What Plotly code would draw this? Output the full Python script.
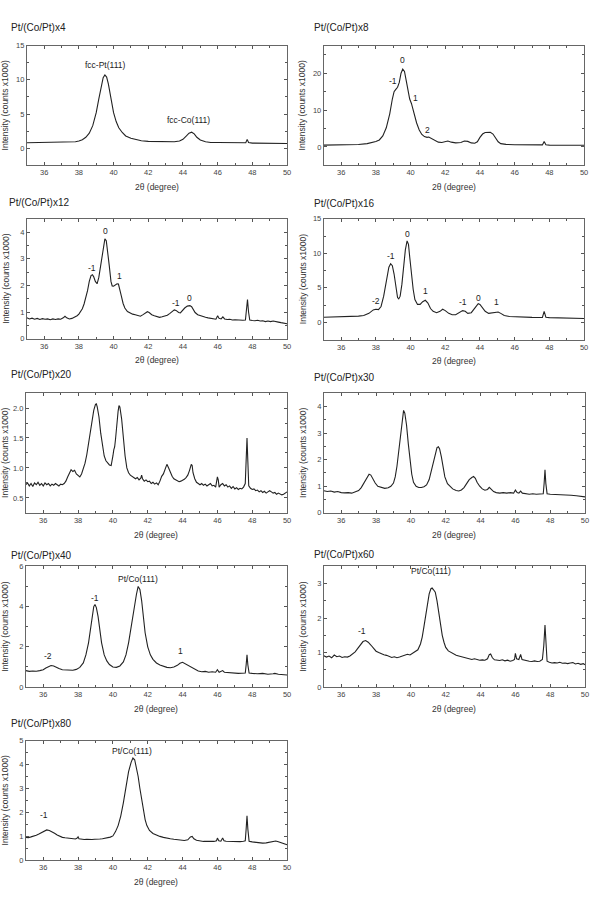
import plotly.graph_objects as go

W, H = 596, 900

# ---------------- data (2theta, intensity x1000) ----------------
titles = ["Pt/(Co/Pt)x4", "Pt/(Co/Pt)x8", "Pt/(Co/Pt)x12", "Pt/(Co/Pt)x16", "Pt/(Co/Pt)x20",
          "Pt/(Co/Pt)x30", "Pt/(Co/Pt)x40", "Pt/(Co/Pt)x60", "Pt/(Co/Pt)x80"]

x_label = "2θ (degree)"
y_label = "Intensity (counts x1000)"
x_ticks = [36, 38, 40, 42, 44, 46, 48, 50]

x4 = [(35.0,0.80),(35.5,0.82),(36.0,0.80),(36.5,0.82),(37.0,0.83),(37.5,0.88),(37.8,0.95),(38.0,1.05),
      (38.2,1.25),(38.4,1.6),(38.6,2.2),(38.8,3.3),(39.0,5.2),(39.15,7.2),(39.3,9.2),(39.4,10.3),(39.5,10.7),
      (39.6,10.4),(39.7,9.4),(39.8,8.0),(39.9,6.5),(40.0,5.2),(40.15,3.9),(40.3,3.0),(40.5,2.3),(40.7,1.8),
      (41.0,1.45),(41.3,1.25),(41.6,1.1),(42.0,1.0),(42.5,0.95),(43.0,0.92),(43.5,0.95),(43.8,1.05),(44.0,1.3),
      (44.2,1.8),(44.35,2.2),(44.5,2.35),(44.65,2.1),(44.8,1.6),(45.0,1.2),(45.3,0.95),(45.6,0.85),(46.0,0.85),
      (46.5,0.82),(47.0,0.8),(47.5,0.78),(47.62,0.8),(47.7,1.3),(47.78,0.85),(48.0,0.75),(48.5,0.73),
      (49.0,0.72),(49.5,0.72),(50.0,0.7)]

x8 = [(35.0,0.5),(35.5,0.5),(36.0,0.52),(36.5,0.55),(37.0,0.65),(37.5,0.9),(37.8,1.2),(38.0,1.5),(38.2,1.9),
      (38.4,3.0),(38.6,5.2),(38.8,9.0),(38.95,13.0),(39.05,15.0),(39.15,15.6),(39.25,16.2),(39.35,17.5),
      (39.45,20.0),(39.55,21.1),(39.65,20.5),(39.75,18.0),(39.85,15.0),(39.95,13.0),(40.05,11.8),(40.2,9.0),
      (40.35,6.5),(40.5,4.6),(40.65,3.4),(40.8,2.8),(40.95,2.6),(41.05,2.7),(41.2,2.3),(41.4,1.7),(41.6,1.3),
      (41.8,1.2),(42.0,1.5),(42.15,1.6),(42.35,1.3),(42.6,1.1),(42.9,1.2),(43.1,1.6),(43.3,1.5),(43.5,1.1),
      (43.7,1.0),(43.85,1.4),(44.0,2.6),(44.15,3.5),(44.3,3.9),(44.45,4.0),(44.6,4.0),(44.75,3.5),(44.9,2.4),
      (45.05,1.4),(45.2,0.9),(45.5,0.7),(46.0,0.6),(46.5,0.6),(47.0,0.55),(47.6,0.55),(47.7,1.5),(47.8,0.6),
      (48.0,0.5),(48.5,0.5),(49.0,0.48),(49.5,0.48),(50.0,0.45)]

x12 = [(35.0,0.78),(35.15,0.74),(35.3,0.77),(35.45,0.73),(35.6,0.76),(35.75,0.72),(35.9,0.75),(36.05,0.73),
       (36.2,0.74),(36.35,0.71),(36.5,0.74),(36.65,0.72),(36.8,0.74),(36.95,0.73),(37.1,0.78),(37.2,0.84),
       (37.3,0.78),(37.45,0.74),(37.6,0.76),(37.75,0.80),(37.9,0.86),(38.0,0.92),(38.1,1.0),(38.2,1.12),
       (38.3,1.30),(38.4,1.52),(38.5,1.80),(38.6,2.15),(38.7,2.37),(38.78,2.40),(38.85,2.33),(38.95,2.15),
       (39.05,2.06),(39.15,2.30),(39.22,2.60),(39.3,2.95),(39.4,3.45),(39.5,3.75),(39.58,3.68),(39.65,3.35),
       (39.75,2.75),(39.85,2.15),(39.92,1.98),(40.0,1.97),(40.1,2.0),(40.2,2.06),(40.28,2.05),(40.35,1.90),
       (40.45,1.60),(40.55,1.32),(40.65,1.15),(40.8,1.02),(40.95,0.96),(41.1,0.92),(41.25,0.90),(41.4,0.86),
       (41.55,0.84),(41.7,0.90),(41.85,0.97),(41.95,1.01),(42.05,0.98),(42.2,0.90),(42.35,0.86),(42.5,0.83),
       (42.65,0.80),(42.8,0.82),(42.95,0.84),(43.1,0.88),(43.25,0.95),(43.4,1.02),(43.5,1.08),(43.6,1.06),
       (43.75,0.98),(43.85,0.97),(43.95,1.05),(44.1,1.15),(44.25,1.22),(44.4,1.24),(44.5,1.20),(44.6,1.10),
       (44.7,0.98),(44.85,0.90),(45.0,0.86),(45.15,0.84),(45.3,0.80),(45.45,0.78),(45.6,0.76),(45.75,0.74),
       (45.9,0.73),(46.0,0.86),(46.08,0.76),(46.2,0.74),(46.3,0.82),(46.4,0.74),(46.55,0.72),(46.7,0.73),
       (46.85,0.70),(47.0,0.71),(47.15,0.70),(47.3,0.71),(47.45,0.69),(47.6,0.70),(47.66,1.0),(47.72,1.47),
       (47.78,1.0),(47.85,0.70),(48.0,0.68),(48.15,0.67),(48.3,0.69),(48.45,0.66),(48.6,0.67),(48.75,0.64),
       (48.9,0.66),(49.05,0.64),(49.2,0.66),(49.35,0.65),(49.5,0.62),(49.65,0.60),(49.8,0.58),(50.0,0.56)]

x16 = [(35.0,0.75),(35.5,0.78),(36.0,0.8),(36.5,0.85),(37.0,0.9),(37.3,1.0),(37.6,1.3),(37.85,1.8),(38.0,1.9),
       (38.15,1.85),(38.3,2.3),(38.45,3.8),(38.6,6.0),(38.75,8.0),(38.85,8.5),(38.95,8.2),(39.05,7.0),
       (39.15,5.0),(39.25,3.6),(39.32,3.4),(39.4,3.8),(39.5,5.5),(39.6,8.0),(39.7,10.5),(39.8,11.8),
       (39.88,11.3),(39.95,9.5),(40.05,7.0),(40.15,4.8),(40.25,3.3),(40.4,2.6),(40.55,2.6),(40.7,3.0),
       (40.85,3.2),(41.0,2.8),(41.15,2.0),(41.3,1.6),(41.5,1.4),(41.7,1.6),(41.85,1.9),(42.0,1.7),(42.2,1.3),
       (42.4,1.1),(42.6,1.1),(42.8,1.4),(43.0,1.7),(43.15,1.6),(43.3,1.3),(43.5,1.4),(43.7,2.0),(43.9,2.7),
       (44.0,2.6),(44.15,2.1),(44.3,1.6),(44.5,1.3),(44.7,1.4),(44.9,1.5),(45.05,1.5),(45.2,1.3),(45.4,1.0),
       (45.7,0.85),(46.0,0.8),(46.5,0.75),(47.0,0.72),(47.5,0.7),(47.6,0.72),(47.7,1.6),(47.8,0.75),
       (48.0,0.68),(48.5,0.65),(49.0,0.6),(49.5,0.58),(50.0,0.55)]

x20 = [(35.0,0.72),(35.1,0.75),(35.2,0.70),(35.3,0.74),(35.4,0.69),(35.5,0.75),(35.6,0.72),(35.7,0.76),
       (35.8,0.71),(35.9,0.74),(36.0,0.70),(36.1,0.75),(36.2,0.72),(36.3,0.74),(36.4,0.70),(36.5,0.73),
       (36.6,0.71),(36.7,0.74),(36.8,0.72),(36.9,0.70),(37.0,0.73),(37.1,0.72),(37.2,0.74),(37.3,0.78),
       (37.4,0.85),(37.5,0.92),(37.6,0.97),(37.7,0.94),(37.8,0.96),(37.9,0.90),(38.0,0.88),(38.1,0.85),
       (38.2,0.90),(38.3,0.98),(38.4,1.08),(38.5,1.22),(38.6,1.40),(38.7,1.60),(38.8,1.80),(38.9,1.96),
       (39.0,2.06),(39.05,2.07),(39.1,2.02),(39.2,1.85),(39.3,1.58),(39.4,1.35),(39.5,1.20),(39.6,1.12),
       (39.7,1.08),(39.8,1.05),(39.9,1.04),(39.95,1.10),(40.0,1.20),(40.05,1.30),(40.1,1.35),(40.15,1.48),
       (40.2,1.68),(40.3,1.95),(40.35,2.04),(40.4,2.02),(40.5,1.82),(40.6,1.50),(40.7,1.20),(40.8,1.00),
       (40.9,0.92),(41.0,0.88),(41.1,0.86),(41.2,0.85),(41.3,0.82),(41.4,0.84),(41.5,0.80),(41.6,0.83),
       (41.65,0.88),(41.7,0.82),(41.8,0.78),(41.9,0.80),(42.0,0.77),(42.1,0.78),(42.2,0.74),(42.3,0.76),
       (42.4,0.73),(42.5,0.75),(42.6,0.72),(42.7,0.78),(42.8,0.86),(42.9,0.90),(43.0,0.98),(43.1,1.06),
       (43.2,1.00),(43.3,0.92),(43.4,0.86),(43.5,0.82),(43.6,0.80),(43.7,0.78),(43.8,0.77),(43.9,0.78),
       (44.0,0.79),(44.1,0.81),(44.2,0.84),(44.3,0.88),(44.4,0.96),(44.5,1.06),(44.55,1.04),(44.6,0.92),
       (44.7,0.82),(44.8,0.76),(44.9,0.74),(45.0,0.72),(45.1,0.74),(45.2,0.71),(45.3,0.73),(45.4,0.70),
       (45.5,0.72),(45.6,0.74),(45.7,0.70),(45.8,0.71),(45.9,0.68),(46.0,0.85),(46.05,0.80),(46.1,0.68),
       (46.2,0.72),(46.3,0.74),(46.4,0.70),(46.5,0.72),(46.6,0.68),(46.7,0.70),(46.8,0.66),(46.9,0.69),
       (47.0,0.65),(47.1,0.67),(47.2,0.64),(47.3,0.66),(47.4,0.65),(47.5,0.68),(47.6,0.74),(47.65,1.10),
       (47.7,1.50),(47.75,1.10),(47.8,0.70),(47.9,0.66),(48.0,0.64),(48.1,0.65),(48.2,0.62),(48.3,0.63),
       (48.4,0.60),(48.5,0.62),(48.6,0.59),(48.7,0.61),(48.8,0.58),(48.9,0.60),(49.0,0.62),(49.1,0.60),
       (49.2,0.58),(49.3,0.59),(49.4,0.56),(49.5,0.58),(49.6,0.57),(49.7,0.55),(49.8,0.56),(49.9,0.58),
       (50.0,0.60)]

x30 = [(35.0,0.83),(35.2,0.80),(35.4,0.82),(35.6,0.78),(35.8,0.80),(36.0,0.76),(36.2,0.75),(36.4,0.76),
       (36.6,0.74),(36.8,0.78),(37.0,0.84),(37.15,0.95),(37.3,1.12),(37.45,1.32),(37.6,1.45),(37.7,1.42),
       (37.8,1.30),(37.95,1.12),(38.1,1.0),(38.3,0.95),(38.5,0.92),(38.7,0.94),(38.85,1.0),(39.0,1.12),
       (39.1,1.35),(39.2,1.75),(39.3,2.35),(39.4,3.0),(39.5,3.6),(39.58,3.85),(39.65,3.75),(39.75,3.3),
       (39.85,2.6),(39.95,1.95),(40.05,1.45),(40.15,1.15),(40.3,1.0),(40.45,0.95),(40.6,0.95),(40.75,0.98),
       (40.9,1.05),(41.05,1.25),(41.2,1.65),(41.35,2.15),(41.5,2.45),(41.58,2.48),(41.65,2.4),(41.75,2.1),
       (41.85,1.7),(41.95,1.35),(42.1,1.1),(42.25,0.98),(42.4,0.9),(42.6,0.84),(42.75,0.82),(42.9,0.86),
       (43.05,0.95),(43.2,1.1),(43.35,1.25),(43.5,1.33),(43.6,1.37),(43.7,1.3),(43.8,1.15),(43.95,1.0),
       (44.1,0.9),(44.25,0.85),(44.4,0.88),(44.5,0.96),(44.6,0.88),(44.75,0.80),(44.9,0.76),(45.1,0.74),
       (45.3,0.76),(45.5,0.74),(45.7,0.76),(45.9,0.74),(46.0,0.86),(46.1,0.76),(46.2,0.74),(46.3,0.82),
       (46.4,0.74),(46.6,0.72),(46.8,0.70),(47.0,0.72),(47.2,0.70),(47.4,0.71),(47.6,0.72),(47.65,1.1),
       (47.7,1.62),(47.75,1.1),(47.82,0.72),(48.0,0.70),(48.3,0.69),(48.6,0.70),(48.9,0.67),(49.2,0.66),
       (49.5,0.64),(49.8,0.62),(50.0,0.60)]

x40 = [(35.0,0.82),(35.2,0.78),(35.4,0.80),(35.6,0.79),(35.8,0.82),(36.0,0.86),(36.15,0.95),(36.3,1.02),
       (36.45,1.07),(36.6,1.05),(36.75,0.98),(36.9,0.92),(37.1,0.86),(37.3,0.85),(37.5,0.86),(37.7,0.84),
       (37.9,0.88),(38.1,0.98),(38.3,1.2),(38.45,1.6),(38.6,2.2),(38.7,2.8),(38.8,3.5),(38.9,4.0),(38.97,4.1),
       (39.05,3.95),(39.15,3.5),(39.25,2.8),(39.35,2.2),(39.5,1.6),(39.65,1.3),(39.8,1.12),(40.0,1.0),
       (40.2,0.98),(40.4,1.05),(40.6,1.25),(40.75,1.6),(40.9,2.2),(41.05,3.0),(41.2,3.9),(41.35,4.6),
       (41.45,5.0),(41.55,4.85),(41.65,4.3),(41.75,3.5),(41.85,2.7),(42.0,2.0),(42.15,1.6),(42.3,1.38),
       (42.5,1.2),(42.7,1.1),(42.9,1.02),(43.1,0.98),(43.3,0.96),(43.5,1.0),(43.7,1.08),(43.85,1.18),
       (44.0,1.23),(44.1,1.18),(44.25,1.1),(44.4,1.05),(44.55,0.98),(44.7,0.88),(44.9,0.8),(45.1,0.76),
       (45.3,0.78),(45.5,0.74),(45.7,0.76),(45.9,0.74),(46.0,0.86),(46.1,0.74),(46.3,0.82),(46.4,0.74),
       (46.6,0.72),(46.8,0.70),(47.0,0.70),(47.2,0.68),(47.4,0.69),(47.6,0.70),(47.65,1.1),(47.7,1.6),
       (47.75,1.1),(47.82,0.70),(48.0,0.68),(48.3,0.66),(48.6,0.68),(48.9,0.64),(49.2,0.66),(49.3,0.68),
       (49.5,0.64),(49.8,0.62),(50.0,0.60)]

x60 = [(35.0,0.91),(35.15,0.87),(35.3,0.90),(35.45,0.85),(35.6,0.93),(35.75,0.88),(35.9,0.90),(36.05,0.86),
       (36.2,0.88),(36.35,0.87),(36.5,0.90),(36.65,0.95),(36.8,1.02),(36.95,1.12),(37.1,1.24),(37.25,1.32),
       (37.4,1.35),(37.55,1.30),(37.7,1.22),(37.85,1.12),(38.0,1.04),(38.15,1.0),(38.3,0.96),(38.45,0.94),
       (38.6,0.92),(38.75,0.90),(38.9,0.86),(39.05,0.88),(39.2,0.85),(39.35,0.87),(39.5,0.90),(39.65,0.92),
       (39.8,0.95),(39.95,0.93),(40.1,0.98),(40.25,1.02),(40.4,1.08),(40.55,1.25),(40.65,1.45),(40.75,1.75),
       (40.85,2.1),(40.95,2.45),(41.05,2.7),(41.15,2.85),(41.22,2.87),(41.3,2.82),(41.4,2.75),(41.5,2.5),
       (41.6,2.15),(41.7,1.8),(41.8,1.5),(41.9,1.3),(42.0,1.15),(42.15,1.05),(42.3,1.0),(42.45,0.95),
       (42.6,0.92),(42.75,0.90),(42.9,0.88),(43.05,0.86),(43.2,0.84),(43.35,0.82),(43.5,0.80),(43.65,0.82),
       (43.8,0.79),(43.95,0.78),(44.1,0.79),(44.25,0.78),(44.4,0.82),(44.5,0.94),(44.58,0.96),(44.68,0.85),
       (44.8,0.79),(44.95,0.78),(45.1,0.77),(45.25,0.79),(45.4,0.76),(45.55,0.78),(45.7,0.75),(45.85,0.77),
       (45.95,0.80),(46.0,0.98),(46.07,0.82),(46.2,0.80),(46.3,0.95),(46.38,0.80),(46.5,0.78),(46.65,0.76),
       (46.8,0.75),(46.95,0.74),(47.1,0.76),(47.25,0.74),(47.4,0.75),(47.55,0.80),(47.63,1.2),(47.7,1.8),
       (47.76,1.2),(47.82,0.75),(47.95,0.72),(48.1,0.70),(48.25,0.71),(48.4,0.70),(48.55,0.72),(48.7,0.69),
       (48.85,0.70),(49.0,0.68),(49.15,0.70),(49.3,0.71),(49.45,0.67),(49.6,0.69),(49.75,0.66),(49.9,0.68),
       (50.0,0.65)]

x80 = [(35.0,0.96),(35.15,0.95),(35.3,0.98),(35.45,1.0),(35.6,1.05),(35.75,1.10),(35.9,1.16),(36.05,1.22),
       (36.2,1.27),(36.35,1.25),(36.5,1.20),(36.65,1.13),(36.8,1.06),(36.95,1.0),(37.1,0.96),(37.25,0.94),
       (37.4,0.92),(37.55,0.91),(37.7,0.90),(37.85,0.89),(37.95,0.93),(38.0,0.98),(38.05,0.90),(38.2,0.88),
       (38.35,0.87),(38.5,0.88),(38.65,0.86),(38.8,0.87),(38.95,0.88),(39.1,0.87),(39.25,0.89),(39.4,0.90),
       (39.55,0.92),(39.7,0.95),(39.85,0.97),(40.0,1.02),(40.15,1.2),(40.3,1.45),(40.45,1.85),(40.6,2.4),
       (40.75,3.1),(40.9,3.7),(41.05,4.1),(41.15,4.27),(41.25,4.2),(41.35,3.9),(41.45,3.5),(41.55,3.0),
       (41.65,2.5),(41.75,2.05),(41.85,1.7),(41.95,1.45),(42.1,1.25),(42.3,1.12),(42.5,1.05),(42.7,1.0),
       (42.9,0.96),(43.1,0.92),(43.3,0.90),(43.5,0.88),(43.7,0.86),(43.9,0.84),(44.1,0.83),(44.3,0.86),
       (44.45,0.98),(44.55,1.0),(44.65,0.9),(44.8,0.84),(45.0,0.80),(45.2,0.79),(45.4,0.80),(45.6,0.78),
       (45.8,0.79),(45.95,0.82),(46.0,0.93),(46.08,0.82),(46.2,0.80),(46.3,0.93),(46.38,0.82),(46.5,0.80),
       (46.7,0.79),(46.9,0.78),(47.1,0.79),(47.3,0.78),(47.5,0.80),(47.6,0.82),(47.65,1.3),(47.7,1.86),
       (47.75,1.3),(47.82,0.80),(48.0,0.77),(48.2,0.75),(48.4,0.74),(48.6,0.72),(48.8,0.73),(49.0,0.76),
       (49.2,0.79),(49.35,0.81),(49.5,0.78),(49.7,0.74),(49.85,0.70),(50.0,0.65)]

series = [x4, x8, x12, x16, x20, x30, x40, x60, x80]

# y axis ranges / major tick steps per panel
y_ranges = [(-2.5, 15), (-5, 27.5), (0, 4.5), (-2.5, 15), (0.25, 2.25), (0, 4.5), (0, 6), (0, 3.5), (0, 5)]
y_dticks = [5, 10, 1, 5, 0.5, 1, 2, 1, 1]
y_formats = ["", "", "", "", ".1f", "", "", "", ""]

# peak labels: (x, y, text)
peak_labels = [
    [(39.5, 12.2, "fcc-Pt(111)"), (44.3, 4.1, "fcc-Co(111)")],
    [(39.55, 23.6, "0"), (39.0, 18.0, "-1"), (40.3, 13.2, "1"), (41.0, 4.7, "2")],
    [(38.77, 2.65, "-1"), (39.53, 4.04, "0"), (40.37, 2.37, "1"), (43.6, 1.33, "-1"), (44.4, 1.53, "0")],
    [(38.0, 3.1, "-2"), (38.9, 9.6, "-1"), (39.85, 12.8, "0"), (40.85, 4.6, "1"),
     (43.05, 2.9, "-1"), (43.9, 3.5, "0"), (44.95, 2.9, "1")],
    [],
    [],
    [(36.3, 1.56, "-2"), (38.98, 4.44, "-1"), (41.45, 5.35, "Pt/Co(111)"), (43.9, 1.78, "1")],
    [(37.2, 1.63, "-1"), (41.15, 3.37, "Pt/Co(111)")],
    [(36.04, 1.89, "-1"), (41.1, 4.55, "Pt/Co(111)")],
]

# ---------------- layout geometry (pixels) ----------------
boxes = [(27, 289, 42, 163), (326, 588, 42, 163),
         (27, 289, 217, 338), (326, 588, 217, 339),
         (26, 289, 393, 514), (326, 589, 393, 514),
         (26, 289, 568, 690), (326, 589, 568, 690),
         (26, 289, 744, 865)]
title_pos = [(9, 24), (314, 24), (7, 201), (314, 202), (9, 374), (314, 377), (9, 557), (314, 556), (9, 727)]


def px(xp):
    return xp / W


def py(yp):
    return 1 - yp / H


FONT = "Liberation Sans, Arial, sans-serif"
fig = go.Figure()
annotations = []

for i, (data, box) in enumerate(zip(series, boxes)):
    n = i + 1
    xs = [p[0] for p in data]
    ys = [p[1] for p in data]
    xref = "x" if n == 1 else f"x{n}"
    yref = "y" if n == 1 else f"y{n}"
    fig.add_trace(go.Scatter(x=xs, y=ys, mode="lines", xaxis=xref, yaxis=yref,
                             line=dict(color="#222222", width=1.1), showlegend=False,
                             hoverinfo="skip"))
    l, r, t, b = box
    axcommon = dict(showline=True, linecolor="#666666", linewidth=1, mirror="ticks",
                    ticks="inside", ticklen=3, tickcolor="#555555", tickwidth=1,
                    showgrid=False, zeroline=False,
                    tickfont=dict(family=FONT, size=7.5, color="#444444"))
    xkey = "xaxis" if n == 1 else f"xaxis{n}"
    ykey = "yaxis" if n == 1 else f"yaxis{n}"
    fig.update_layout({
        xkey: dict(domain=[px(l), px(r)], range=[35, 50], anchor=yref,
                   tickvals=x_ticks, minor=dict(dtick=1, tick0=35, ticks="inside", ticklen=2,
                                                tickcolor="#555555"),
                   **axcommon),
        ykey: dict(domain=[py(b), py(t)], range=list(y_ranges[i]), anchor=xref,
                   dtick=y_dticks[i], tick0=0, tickformat=y_formats[i],
                   minor=dict(dtick=y_dticks[i] / 2, ticks="inside", ticklen=2, tickcolor="#555555"),
                   **axcommon),
    })
    # panel title
    tx, ty = title_pos[i]
    annotations.append(dict(x=px(tx), y=py(ty), xref="paper", yref="paper", text=titles[i],
                            showarrow=False, xanchor="left", yanchor="middle",
                            font=dict(family=FONT, size=10, color="#222222")))
    # x-axis title
    annotations.append(dict(x=px((l + r) / 2), y=py(b + 22), xref="paper", yref="paper",
                            text=x_label, showarrow=False, xanchor="center", yanchor="middle",
                            font=dict(family=FONT, size=8.5, color="#333333")))
    # y-axis title
    annotations.append(dict(x=px(l - 21), y=py((t + b) / 2), xref="paper", yref="paper",
                            text=y_label, showarrow=False, textangle=-90,
                            xanchor="center", yanchor="middle",
                            font=dict(family=FONT, size=8.5, color="#333333")))
    for (ax, ay, txt) in peak_labels[i]:
        annotations.append(dict(x=ax, y=ay, xref=xref, yref=yref, text=txt, showarrow=False,
                                xanchor="center", yanchor="middle",
                                font=dict(family=FONT, size=8.5, color="#222222")))

fig.update_layout(width=W, height=H, margin=dict(l=0, r=0, t=0, b=0),
                  paper_bgcolor="white", plot_bgcolor="white", annotations=annotations)

fig.write_html("out.html")
